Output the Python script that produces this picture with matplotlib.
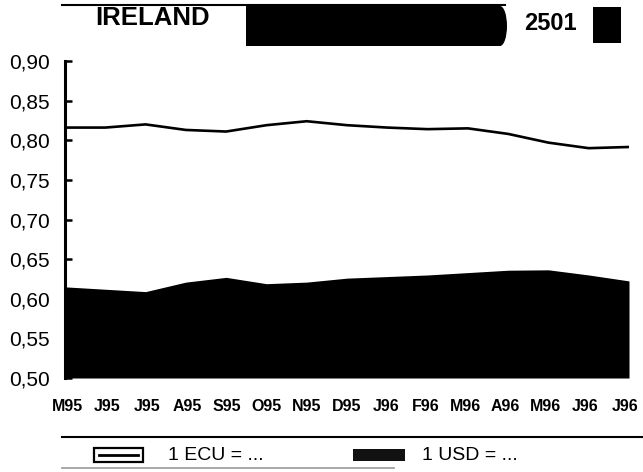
import numpy as np
import matplotlib
matplotlib.use("Agg")
import matplotlib.pyplot as plt
from matplotlib.patches import Rectangle, Ellipse
from matplotlib.lines import Line2D

plt.rcParams['font.family'] = ['Liberation Sans', 'DejaVu Sans']

months = ["M95", "J95", "J95", "A95", "S95", "O95", "N95", "D95",
          "J96", "F96", "M96", "A96", "M96", "J96", "J96"]
ecu = [0.816, 0.816, 0.820, 0.813, 0.811, 0.819, 0.824, 0.819,
       0.816, 0.814, 0.815, 0.808, 0.797, 0.790, 0.7915]
usd = [0.615, 0.612, 0.609, 0.621, 0.627, 0.619, 0.621, 0.626,
       0.628, 0.630, 0.633, 0.636, 0.6365, 0.630, 0.6225]
yticks = [0.50, 0.55, 0.60, 0.65, 0.70, 0.75, 0.80, 0.85, 0.90]
title = "IRELAND"
code = "2501"
leg_ecu = "1 ECU = ..."
leg_usd = "1 USD = ..."

W, H = 643, 472
fig = plt.figure(figsize=(W / 100, H / 100), dpi=100)

def fx(px):
    return px / W

def fy(py):
    return 1 - py / H

ax = fig.add_axes([fx(65), fy(378), fx(629) - fx(65), fy(61) - fy(378)])
x = np.arange(len(months))
ymin = yticks[0]
ax.fill_between(x, ymin, usd, color="black", linewidth=0)
ax.plot(x, ecu, color="black", linewidth=1.9)
ax.set_xlim(x[0], x[-1])
ax.set_ylim(yticks[0], yticks[-1])
ax.set_yticks(yticks)
ax.set_yticklabels([f"{v:.2f}".replace(".", ",") for v in yticks], fontsize=15)
ax.set_xticks(np.linspace(0.07, 13.9, len(months)))
ax.set_xticklabels(months, fontsize=11.5, fontweight="bold")
ax.tick_params(axis="y", direction="in", length=5, width=1.8, pad=11)
ax.tick_params(axis="x", length=0, pad=15)
for s in ["top", "right", "bottom"]:
    ax.spines[s].set_visible(False)
ax.spines["left"].set_linewidth(2.2)

# Header
fig.add_artist(Line2D([fx(62), fx(505)], [fy(5), fy(5)], color="black", linewidth=1.5))
fig.text(fx(153), fy(18), title, fontsize=18.5, fontweight="bold", ha="center", va="center")
fig.add_artist(Rectangle((fx(246), fy(46)), fx(500) - fx(246), fy(6) - fy(46), color="black", lw=0))
fig.add_artist(Ellipse((fx(500), fy(26)), fx(14), fy(0) - fy(40), color="black", lw=0))
fig.text(fx(550), fy(23), code, fontsize=17, fontweight="bold", ha="center", va="center")
fig.add_artist(Rectangle((fx(593), fy(43)), fx(28), fy(0) - fy(36), color="black", lw=0))

# Legend
fig.add_artist(Line2D([fx(62), fx(643)], [fy(437), fy(437)], color="black", linewidth=1.5))
fig.add_artist(Line2D([fx(62), fx(394)], [fy(468), fy(468)], color="#999999", linewidth=1.2))
fig.add_artist(Rectangle((fx(94), fy(462)), fx(49), fy(448) - fy(462), facecolor="white",
                         edgecolor="black", lw=1.6))
fig.add_artist(Line2D([fx(99), fx(138)], [fy(455), fy(455)], color="black", linewidth=2.0))
fig.text(fx(168), fy(455), leg_ecu, fontsize=14, ha="left", va="center")
fig.add_artist(Rectangle((fx(353), fy(461)), fx(52), fy(449) - fy(461), color="#111111", lw=0))
fig.text(fx(422), fy(455), leg_usd, fontsize=14, ha="left", va="center")

fig.savefig("out.png", dpi=100)
